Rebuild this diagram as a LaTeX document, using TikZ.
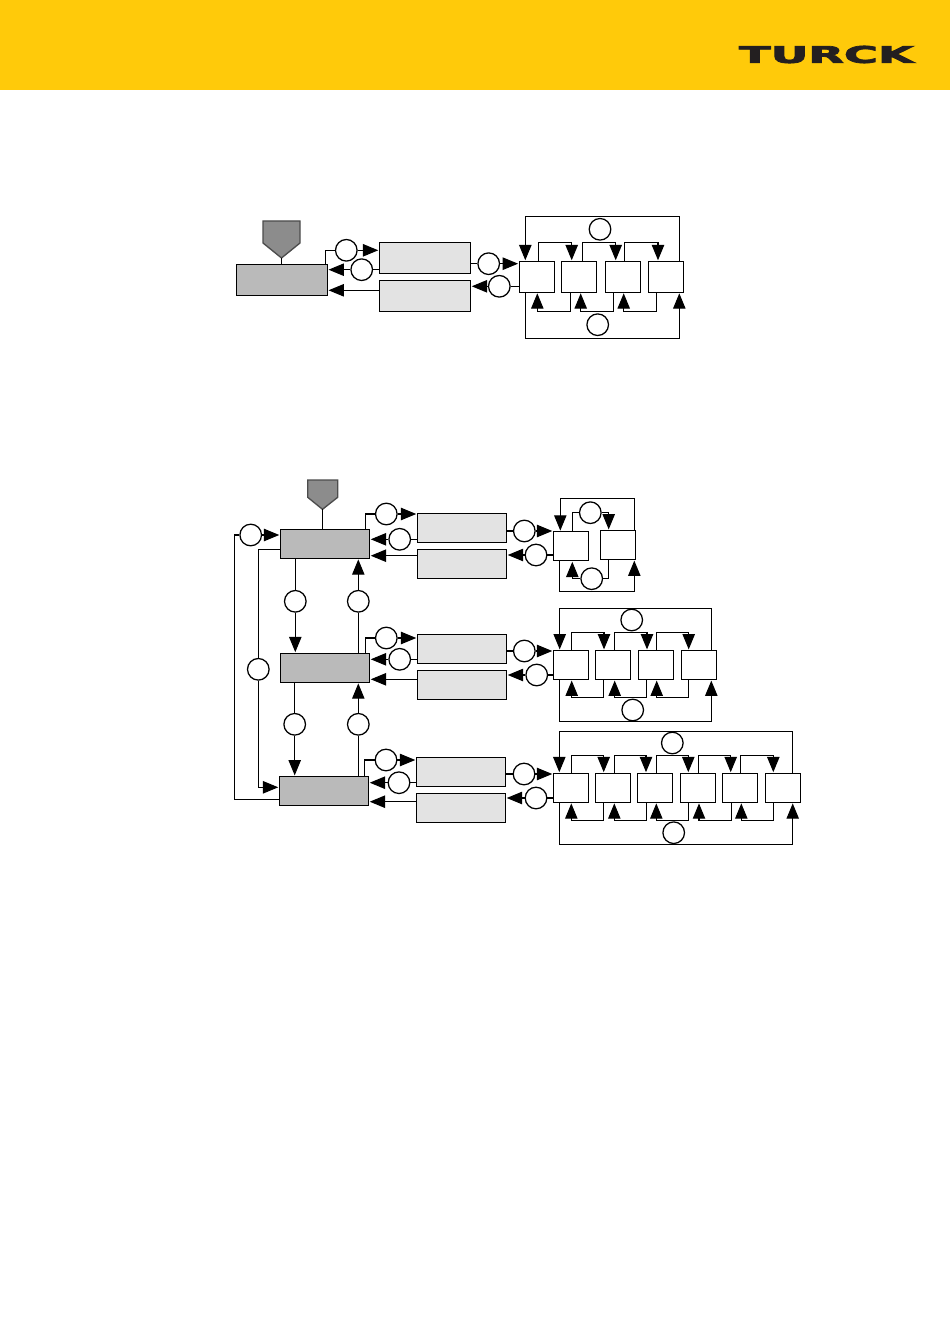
\documentclass[tikz,border=0pt]{standalone}
\usepackage{fontspec}
\usetikzlibrary{arrows.meta}
\newfontfamily\logofont{DejaVu Sans}[BoldFont={DejaVu Sans Bold}, BoldFeatures={FakeBold=3}]
\definecolor{bandcolor}{HTML}{FFCA0A}
\definecolor{logocolor}{HTML}{231F20}
\begin{document}
\begin{tikzpicture}[
		x=0.75pt, y=-0.75pt,
		conn/.style={line width=0.8pt},
		flow/.style={line width=0.8pt, -{Triangle[length=11.5pt,width=9.3pt]}, shorten >=0.4pt},
		tagshape/.style={fill=black!45, draw=black!70, line width=1pt},
		mainbox/.style={draw, line width=0.8pt, fill=black!27, inner sep=0pt, minimum width=67pt, minimum height=21.8pt},
		relaybox/.style={draw, line width=0.8pt, fill=black!11, inner sep=0pt, minimum width=67pt, minimum height=21.8pt},
		devbox/.style={draw, line width=0.8pt, fill=white, inner sep=0pt, minimum width=26.5pt, minimum height=21.8pt},
		numcircle/.style={circle, draw, line width=0.95pt, fill=white, inner sep=0pt, minimum size=16.2pt}
	]
	\useasboundingbox (0,0) rectangle (950,1344);

	% yellow band and logo
	\fill[bandcolor] (0,0) rectangle (950,90);
	\node[inner sep=0pt, text=logocolor] (logo) at (826.5,54.5) {\resizebox{131pt}{12.8pt}{\logofont\bfseries TURCK}};

	% first diagram: boxes
	\draw[tagshape] (263,221) -- (300,221) -- (300,243) -- (281.5,258) -- (263,243) -- cycle;
	\coordinate (tag0) at (281.5,258);
	\node[mainbox, minimum width=68.5pt, minimum height=23pt] (main0) at (281.8,280) {};
	\node[relaybox, minimum width=68.5pt, minimum height=23.2pt] (relay0a) at (425,257.8) {};
	\node[relaybox, minimum width=68.5pt, minimum height=23.2pt] (relay0b) at (425,295.8) {};
	\node[devbox, minimum height=23.2pt] (r0b1) at (536.8,276.8) {};
	\node[devbox, minimum height=23.2pt] (r0b2) at (579,276.8) {};
	\node[devbox, minimum height=23.2pt] (r0b3) at (623,276.8) {};
	\node[devbox, minimum height=23.2pt] (r0b4) at (666,276.8) {};
	\node[numcircle] (c0a) at (346.3,250.3) {};
	\node[numcircle] (c0b) at (361.7,269.7) {};
	\node[numcircle] (c0c) at (488.7,263.7) {};
	\node[numcircle] (c0d) at (499.3,286.3) {};
	\node[numcircle] (c0top) at (600,229.3) {};
	\node[numcircle] (c0bot) at (597.7,324.7) {};

	% first diagram: connectors
	\draw[conn] (tag0) -- (tag0 |- main0.north);
	\draw[conn] (325.3,0 |- main0.north) |- (c0a);
	\draw[flow] (c0a) -- (c0a -| relay0a.west);
	\draw[conn] (c0b -| relay0a.west) -- (c0b);
	\draw[flow] (c0b) -- (c0b -| main0.east);
	\draw[flow] (relay0b.west |- 0,290.3) -- (main0.east |- 0,290.3);
	\draw[conn] (c0c -| relay0a.east) -- (c0c);
	\draw[flow] (c0c) -- (c0c -| r0b1.west);
	\draw[conn] (c0d -| r0b1.west) -- (c0d);
	\draw[flow] (c0d) -- (c0d -| relay0b.east);
	\draw[flow] (679.3,0 |- r0b4.north) -- (679.3,216.7) -- (525.3,216.7) -- (525.3,0 |- r0b1.north);
	\draw[flow] (525.3,0 |- r0b1.south) -- (525.3,338.3) -- (679.3,338.3) -- (679.3,0 |- r0b4.south);
	\foreach \from/\to/\xa/\xb in {r0b1/r0b2/538.3/571.7, r0b2/r0b3/582.7/615.7, r0b3/r0b4/624.7/658}
		\draw[flow] (\xa,0 |- \from.north) -- (\xa,242.3) -- (\xb,242.3) -- (\xb,0 |- \to.north);
	\foreach \from/\to/\xa/\xb in {r0b2/r0b1/570.7/537.3, r0b3/r0b2/613.7/580.7, r0b4/r0b3/656.7/623.7}
		\draw[flow] (\xa,0 |- \from.south) -- (\xa,311.3) -- (\xb,311.3) -- (\xb,0 |- \to.south);

	% second diagram: masters and relays
	\draw[tagshape] (307.7,480) -- (337.7,480) -- (337.7,497.3) -- (322.5,509.3) -- (307.7,497.3) -- cycle;
	\coordinate (tag1) at (322.5,509.3);
	\node[mainbox] (main1) at (325,543.8) {};
	\node[mainbox] (main2) at (325,667.8) {};
	\node[mainbox] (main3) at (324,791) {};
	\node[relaybox] (relay1a) at (462,527.8) {};
	\node[relaybox] (relay1b) at (462,563.8) {};
	\node[relaybox] (relay2a) at (462,648.8) {};
	\node[relaybox] (relay2b) at (462,684.8) {};
	\node[relaybox] (relay3a) at (461,771.8) {};
	\node[relaybox] (relay3b) at (461,807.8) {};

	% second diagram: devices
	\node[devbox] (r1b1) at (571,546.2) {};
	\node[devbox] (r1b2) at (617.8,545) {};
	\foreach \n/\x in {1/571, 2/612.8, 3/655.8, 4/698.8}
		\node[devbox] (r2b\n) at (\x,665) {};
	\foreach \n/\x in {1/571, 2/613, 3/655, 4/698, 5/740, 6/783}
		\node[devbox] (r3b\n) at (\x,787.8) {};

	% second diagram: circles
	\node[numcircle] (cleft) at (250.7,535) {};
	\node[numcircle] (cvert) at (258.3,669.3) {};
	\node[numcircle] (c12d) at (295.3,601.3) {};
	\node[numcircle] (c12u) at (358.3,601.3) {};
	\node[numcircle] (c23d) at (294.7,724.3) {};
	\node[numcircle] (c23u) at (358.3,724.3) {};
	\foreach \n/\ya/\yb/\yc/\yd/\xa/\xb/\xc/\xd in {1/514/539.3/531/555/386.3/399.7/524.3/536,
			2/638/659.3/651/675/386.3/399.7/524.3/536.7, 3/760/782.7/774/798/386/399/524/536} {
		\node[numcircle] (c\n a) at (\xa,\ya) {};
		\node[numcircle] (c\n b) at (\xb,\yb) {};
		\node[numcircle] (c\n c) at (\xc,\yc) {};
		\node[numcircle] (c\n d) at (\xd,\yd) {};
	}
	\node[numcircle] (c1top) at (590.3,512.7) {};
	\node[numcircle] (c1bot) at (591.7,578.7) {};
	\node[numcircle] (c2top) at (631.7,620) {};
	\node[numcircle] (c2bot) at (632.7,710) {};
	\node[numcircle] (c3top) at (672.3,743) {};
	\node[numcircle] (c3bot) at (673.7,832.7) {};

	% masters to relays and first devices
	\draw[conn] (tag1) -- (tag1 |- main1.north);
	\foreach \n/\xb/\ythird in {1/365.3/555.7, 2/365.3/679.3, 3/364.3/801.7} {
		\draw[conn] (\xb,0 |- main\n.north) |- (c\n a);
		\draw[flow] (c\n a) -- (c\n a -| relay\n a.west);
		\draw[conn] (c\n b -| relay\n a.west) -- (c\n b);
		\draw[flow] (c\n b) -- (c\n b -| main\n.east);
		\draw[flow] (relay\n b.west |- 0,\ythird) -- (main\n.east |- 0,\ythird);
		\draw[conn] (c\n c -| relay\n a.east) -- (c\n c);
		\draw[flow] (c\n c) -- (c\n c -| r\n b1.west);
		\draw[conn] (c\n d -| r\n b1.west) -- (c\n d);
		\draw[flow] (c\n d) -- (c\n d -| relay\n b.east);
	}

	% between the masters
	\draw[conn] (295.3,0 |- main1.south) -- (c12d);
	\draw[flow] (c12d) -- (c12d |- main2.north);
	\draw[conn] (c12u |- main2.north) -- (c12u);
	\draw[flow] (c12u) -- (c12u |- main1.south);
	\draw[conn] (294.7,0 |- main2.south) -- (c23d);
	\draw[flow] (c23d) -- (c23d |- main3.north);
	\draw[conn] (c23u |- main3.north) -- (c23u);
	\draw[flow] (c23u) -- (c23u |- main2.south);

	% outer loops on the left
	\draw[conn] (main3.west |- 0,799.3) -- (234.3,799.3) |- (cleft);
	\draw[flow] (cleft) -- (cleft -| main1.west);
	\draw[conn] (main1.west |- 0,549.3) -| (cvert);
	\draw[flow] (cvert) |- (main3.west |- 0,787.3);

	% row 1 devices
	\draw[flow] (634.3,0 |- r1b2.north) -- (634.3,498.3) -- (560.3,498.3) -- (560.3,0 |- r1b1.north);
	\draw[flow] (559.3,0 |- r1b1.south) -- (559.3,591.4) -- (634.3,591.4) -- (634.3,0 |- r1b2.south);
	\draw[conn] (572.7,0 |- r1b1.north) |- (c1top);
	\draw[flow] (c1top) -| (608.7,0 |- r1b2.north);
	\draw[conn] (608.7,0 |- r1b2.south) |- (c1bot);
	\draw[flow] (c1bot) -| (572.3,0 |- r1b1.south);

	% row 2 devices
	\draw[flow] (711.3,0 |- r2b4.north) -- (711.3,608.3) -- (559.7,608.3) -- (559.7,0 |- r2b1.north);
	\draw[flow] (559.7,0 |- r2b1.south) -- (559.7,721.4) -- (711.3,721.4) -- (711.3,0 |- r2b4.south);
	\foreach \from/\to/\xa/\xb in {r2b1/r2b2/571.7/604, r2b2/r2b3/614.7/647, r2b3/r2b4/656.7/688.7}
		\draw[flow] (\xa,0 |- \from.north) -- (\xa,632.7) -- (\xb,632.7) -- (\xb,0 |- \to.north);
	\foreach \from/\to/\xa/\xb in {r2b2/r2b1/603.3/571.7, r2b3/r2b2/646.3/614.7, r2b4/r2b3/688.3/656.7}
		\draw[flow] (\xa,0 |- \from.south) -- (\xa,697.3) -- (\xb,697.3) -- (\xb,0 |- \to.south);

	% row 3 devices
	\draw[flow] (792.7,0 |- r3b6.north) -- (792.7,731.3) -- (559.3,731.3) -- (559.3,0 |- r3b1.north);
	\draw[flow] (559.3,0 |- r3b1.south) -- (559.3,844.3) -- (792.7,844.3) -- (792.7,0 |- r3b6.south);
	\foreach \from/\to/\xa/\xb in {r3b1/r3b2/571.7/603.7, r3b2/r3b3/614.7/646, r3b3/r3b4/656.7/688.3, r3b4/r3b5/698.7/730.7, r3b5/r3b6/740.7/773.3}
		\draw[flow] (\xa,0 |- \from.north) -- (\xa,755.3) -- (\xb,755.3) -- (\xb,0 |- \to.north);
	\foreach \from/\to/\xa/\xb in {r3b2/r3b1/603.3/571.3, r3b3/r3b2/646.3/614.3, r3b4/r3b3/688.3/656.3, r3b5/r3b4/731.3/699, r3b6/r3b5/773.3/741.3}
		\draw[flow] (\xa,0 |- \from.south) -- (\xa,820.7) -- (\xb,820.7) -- (\xb,0 |- \to.south);
\end{tikzpicture}
\end{document}
